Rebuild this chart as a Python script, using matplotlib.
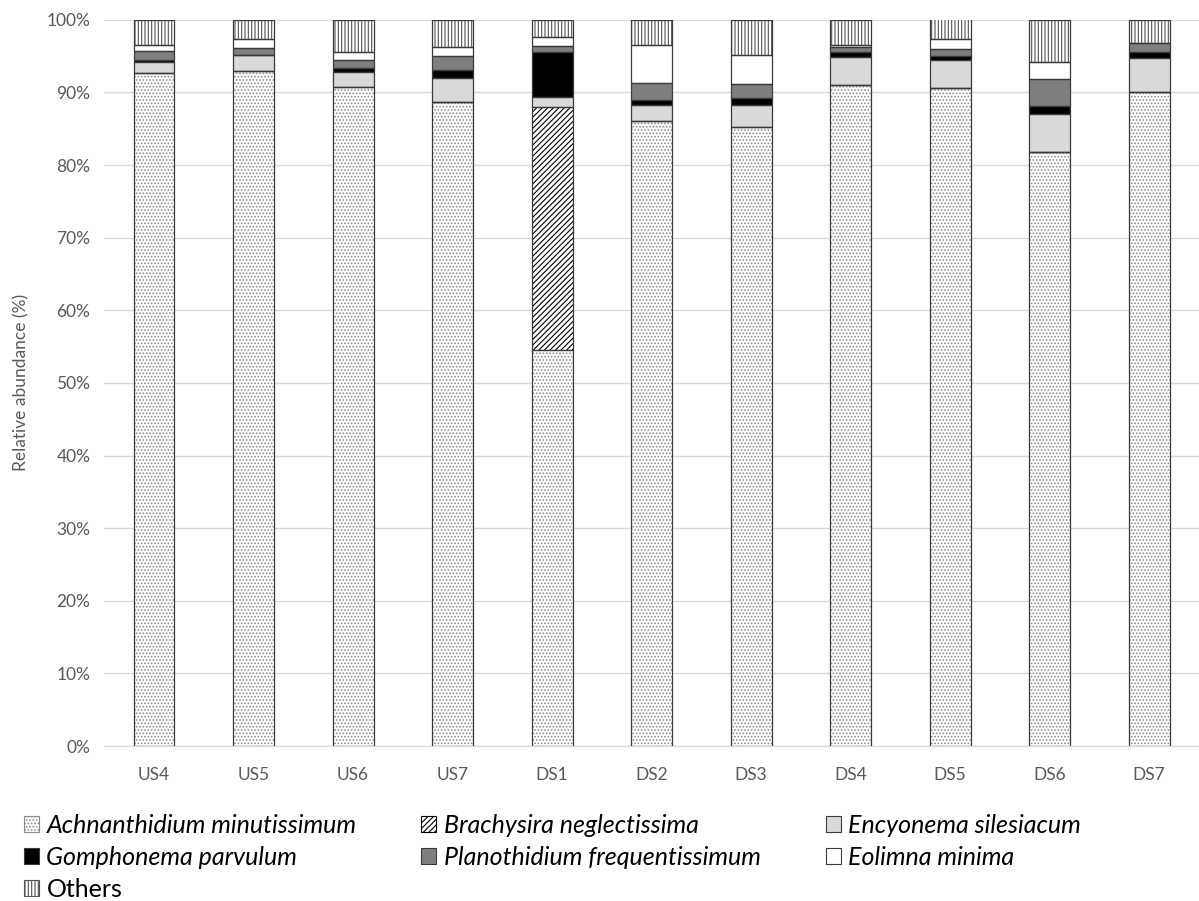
import numpy as np
import matplotlib.pyplot as plt

plt.rcParams['font.family'] = ['Lato', 'DejaVu Sans']

sites = ['US4', 'US5', 'US6', 'US7', 'DS1', 'DS2', 'DS3', 'DS4', 'DS5', 'DS6', 'DS7']

# relative abundance (%) per taxon
achnanthidium = [92.7, 92.9, 90.8, 88.7, 54.5, 86.0, 85.2, 91.0, 90.6, 81.8, 90.1]
brachysira    = [0.0, 0.0, 0.0, 0.0, 33.5, 0.0, 0.0, 0.0, 0.0, 0.0, 0.0]
encyonema     = [1.5, 2.2, 2.0, 3.3, 1.4, 2.3, 3.1, 3.9, 3.8, 5.2, 4.6]
gomphonema    = [0.3, 0.1, 0.6, 1.1, 6.2, 0.6, 1.0, 0.7, 0.6, 1.2, 0.9]
planothidium  = [1.2, 0.9, 1.1, 1.9, 0.8, 2.4, 1.9, 0.7, 1.0, 3.6, 1.2]
eolimna       = [0.8, 1.2, 1.1, 1.3, 1.2, 5.2, 4.0, 0.3, 1.3, 2.4, 0.0]
others        = [3.5, 2.7, 4.4, 3.7, 2.4, 3.5, 4.8, 3.4, 2.9, 5.8, 3.2]

names = ['Achnanthidium minutissimum', 'Brachysira neglectissima', 'Encyonema silesiacum',
         'Gomphonema parvulum', 'Planothidium frequentissimum', 'Eolimna minima', 'Others']
series = [achnanthidium, brachysira, encyonema, gomphonema, planothidium, eolimna, others]

# (facecolor, hatch, hatch colour)
styles = [('white', '.....', '#8c8c8c'),
          ('white', '//////', 'black'),
          ('#d9d9d9', None, None),
          ('black', None, None),
          ('#7f7f7f', None, None),
          ('white', None, None),
          ('white', '|||||', '#555555')]

fig = plt.figure(figsize=(11.99, 9.01), dpi=100)
ax = fig.add_axes([0.087, 0.172, 0.913, 0.806])

x = np.arange(len(sites))
w = 0.41
bottom = np.zeros(len(sites))
handles = []
plt.rcParams['hatch.linewidth'] = 0.8
for vals, (fc, hatch, hc), name in zip(series, styles, names):
    vals = np.array(vals)
    if hatch:
        ax.bar(x, vals, w, bottom=bottom, color=fc, hatch=hatch, edgecolor=hc, linewidth=0, zorder=2)
    else:
        ax.bar(x, vals, w, bottom=bottom, color=fc, linewidth=0, zorder=2)
    ax.bar(x, vals, w, bottom=bottom, fill=False, edgecolor='#3a3a3a', linewidth=0.9, zorder=3)
    h = plt.Rectangle((0, 0), 1, 1, facecolor=fc, hatch=hatch, edgecolor=hc if hatch else '#3a3a3a',
                      linewidth=0.8)
    handles.append(h)
    bottom += vals

ax.set_xlim(-0.5, len(sites) - 0.5)
ax.set_ylim(0, 100)
ax.set_yticks(np.arange(0, 101, 10))
ax.set_yticklabels([f'{v}%' for v in range(0, 101, 10)])
ax.set_xticks(x)
ax.set_xticklabels(sites)
ax.tick_params(colors='#595959', labelsize=12.5, length=0)
ax.tick_params(axis='x', pad=15)
ax.tick_params(axis='y', pad=10)
ax.grid(axis='y', color='#d9d9d9', linewidth=1, zorder=0)
for s in ['top', 'right', 'left']:
    ax.spines[s].set_visible(False)
ax.spines['bottom'].set_color('#d9d9d9')
ax.set_ylabel('Relative abundance (%)', color='#595959', fontsize=12.5, labelpad=12)

# legend filled column-wise, reorder so rows read A B E / G P Eo / Others
order = [0, 3, 6, 1, 4, 2, 5]
leg = fig.legend([handles[i] for i in order], [names[i] for i in order],
                 loc='upper left', bbox_to_anchor=(0.02, 0.097), ncol=3, frameon=False,
                 fontsize=18, handlelength=0.6, handleheight=0.6, handletextpad=0.3,
                 columnspacing=2.6, labelspacing=0.37, borderpad=0, borderaxespad=0)
for t in leg.get_texts():
    if t.get_text() != 'Others':
        t.set_fontstyle('italic')

fig.savefig('out.png', dpi=100)
